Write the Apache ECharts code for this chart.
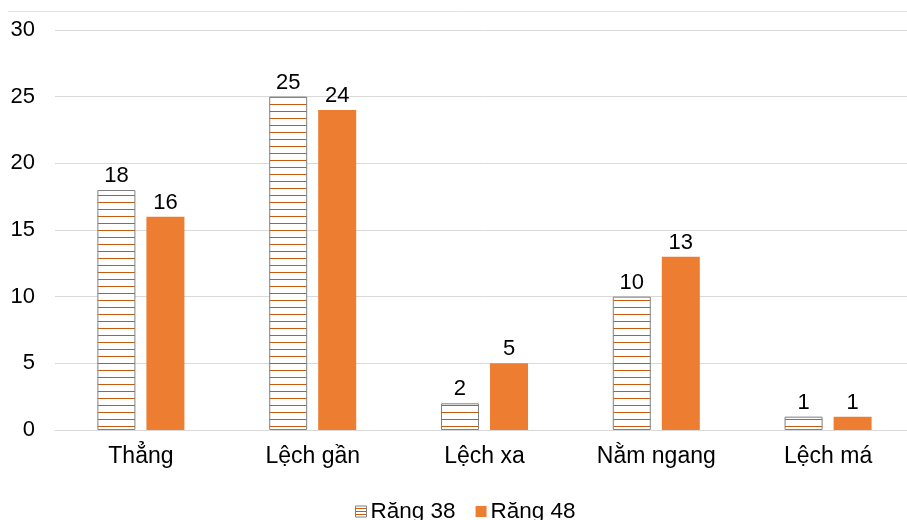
<!DOCTYPE html>
<html>
<head>
<meta charset="utf-8">
<script src="https://cdn.jsdelivr.net/npm/echarts@6/dist/echarts.min.js"></script>
<style>
html,body{margin:0;padding:0;background:#fff;overflow:hidden;width:907px;height:520px;}
#chart{width:915px;height:520px;}
</style>
</head>
<body>
<div id="chart"></div>
<script>
var categories = ['Thẳng', 'Lệch gần', 'Lệch xa', 'Nằm ngang', 'Lệch má'];
var seriesNames = ['Răng 38', 'Răng 48'];
var rang38 = [18, 25, 2, 10, 1];
var rang48 = [16, 24, 5, 13, 1];
var yTicks = [0, 5, 10, 15, 20, 25, 30];

var FONT = '"Liberation Sans", Arial, sans-serif';

function makeHatch(step) {
  var c = document.createElement('canvas');
  c.width = 8; c.height = step;
  var g = c.getContext('2d');
  g.fillStyle = '#ffffff';
  g.fillRect(0, 0, 8, step);
  g.fillStyle = '#c55a11';
  g.fillRect(0, step - 1, 8, 1);
  return c;
}
var hatch = makeHatch(7);
var hatchSmall = makeHatch(3);

var chart = echarts.init(document.getElementById('chart'), null, {renderer: 'canvas'});
var labelStyle = {show: true, position: 'top', distance: 3, color: '#000', fontSize: 22, fontFamily: FONT};
chart.setOption({
  animation: false,
  backgroundColor: '#fff',
  grid: {left: 55, top: 30, width: 859, height: 400, containLabel: false},
  legend: {
    bottom: -8, left: 350,
    itemWidth: 11, itemHeight: 11, itemGap: 20,
    textStyle: {fontSize: 22.5, fontFamily: FONT, color: '#000', padding: [0, 0, 0, -1]},
    data: [
      {name: seriesNames[0], icon: 'rect', itemStyle: {color: {image: hatchSmall, repeat: 'repeat'}, borderColor: '#7f7f7f', borderWidth: 1}},
      {name: seriesNames[1], icon: 'rect'}
    ]
  },
  xAxis: {
    type: 'category', data: categories,
    axisLine: {lineStyle: {color: '#d9d9d9', width: 1}},
    axisTick: {show: false},
    axisLabel: {fontSize: 23, fontFamily: FONT, color: '#000', margin: 15}
  },
  yAxis: {
    type: 'value', min: yTicks[0], max: yTicks[yTicks.length - 1], interval: 5,
    axisLine: {show: false}, axisTick: {show: false},
    splitLine: {lineStyle: {color: '#d9d9d9', width: 1}},
    axisLabel: {fontSize: 22, fontFamily: FONT, color: '#000', margin: 20}
  },
  graphic: [{
    type: 'line', shape: {x1: 8, y1: 11.5, x2: 915, y2: 11.5},
    style: {stroke: '#e3e3e3', lineWidth: 1}, silent: true
  }],
  series: [
    {
      name: seriesNames[0], type: 'bar', data: rang38,
      barWidth: 38, barGap: '29%',
      itemStyle: {color: {image: hatch, repeat: 'repeat'}, borderColor: '#7f7f7f', borderWidth: 1},
      label: labelStyle
    },
    {
      name: seriesNames[1], type: 'bar', data: rang48,
      barWidth: 38,
      itemStyle: {color: '#ed7d31'},
      label: labelStyle
    }
  ]
});
</script>
</body>
</html>
